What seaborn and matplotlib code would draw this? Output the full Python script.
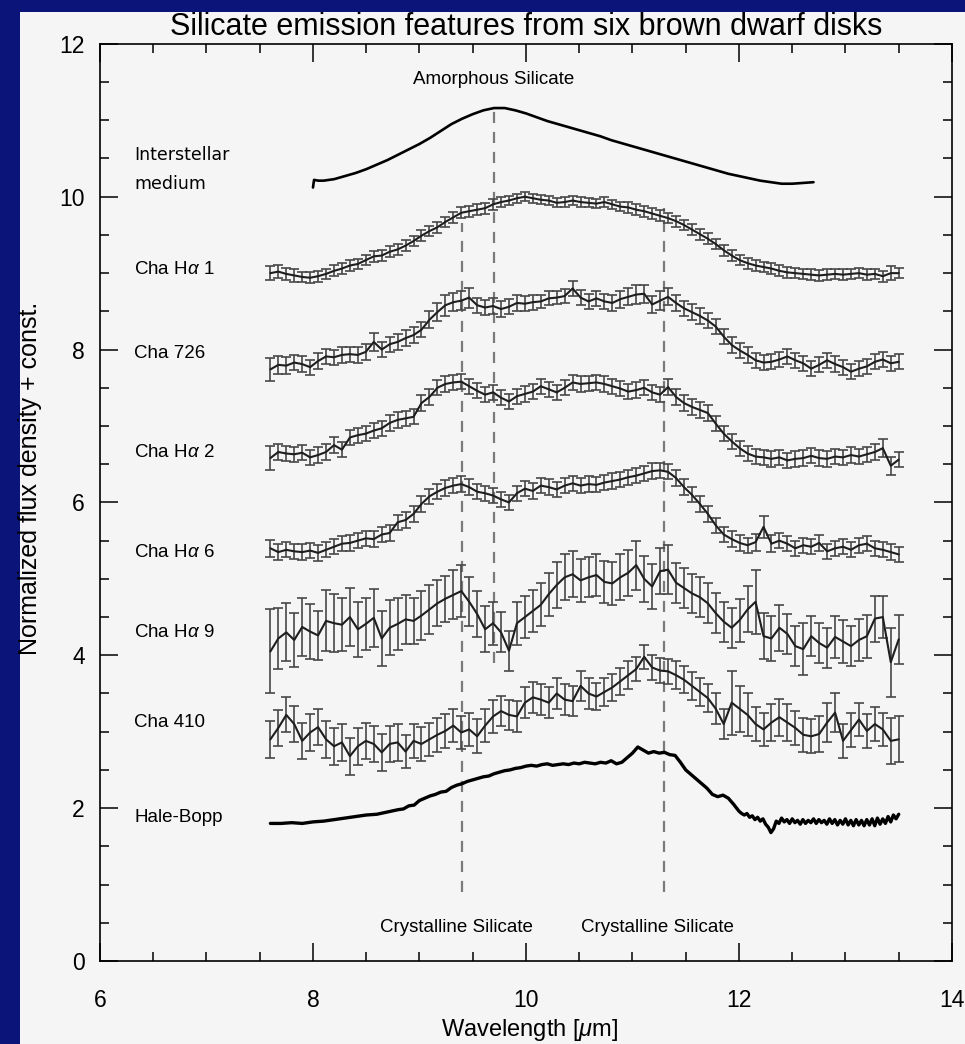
import numpy as np
import matplotlib
matplotlib.use("Agg")
import matplotlib.pyplot as plt
from matplotlib.patches import Rectangle
from matplotlib.ticker import MultipleLocator
import seaborn as sns

# ---------------- data ----------------
wave = np.linspace(7.6, 13.5, 80)   # IRS wavelength grid [micron]

cha_ha1 = [9.00, 9.02, 8.99, 8.97, 8.95, 8.94, 8.96, 8.99, 9.03, 9.06,
           9.10, 9.12, 9.17, 9.22, 9.23, 9.28, 9.31, 9.36, 9.42, 9.49,
           9.55, 9.60, 9.67, 9.73, 9.79, 9.81, 9.83, 9.85, 9.90, 9.93,
           9.95, 9.98, 10.00, 9.98, 9.96, 9.95, 9.92, 9.93, 9.95, 9.93,
           9.92, 9.91, 9.93, 9.90, 9.87, 9.86, 9.83, 9.81, 9.78, 9.75,
           9.72, 9.68, 9.63, 9.57, 9.51, 9.45, 9.38, 9.30, 9.23, 9.17,
           9.13, 9.10, 9.08, 9.06, 9.03, 9.01, 9.00, 8.99, 8.98, 8.97,
           8.98, 8.99, 8.98, 8.99, 9.00, 8.98, 8.99, 8.96, 9.00, 9.00]
cha_ha1_err = [0.09, 0.09, 0.08, 0.08, 0.07, 0.07, 0.07, 0.07, 0.07, 0.07,
               0.07, 0.07, 0.07, 0.07, 0.07, 0.07, 0.07, 0.07, 0.07, 0.07,
               0.07, 0.07, 0.07, 0.07, 0.07, 0.07, 0.07, 0.07, 0.07, 0.07,
               0.06, 0.06, 0.06, 0.06, 0.06, 0.06, 0.06, 0.06, 0.06, 0.06,
               0.06, 0.06, 0.06, 0.06, 0.06, 0.07, 0.07, 0.07, 0.07, 0.07,
               0.07, 0.07, 0.07, 0.07, 0.07, 0.07, 0.07, 0.07, 0.07, 0.07,
               0.07, 0.07, 0.07, 0.07, 0.07, 0.07, 0.07, 0.07, 0.07, 0.07,
               0.07, 0.07, 0.07, 0.07, 0.07, 0.07, 0.07, 0.07, 0.09, 0.07]

cha_726 = [7.74, 7.80, 7.79, 7.83, 7.81, 7.77, 7.85, 7.91, 7.90, 7.93,
           7.94, 7.93, 7.97, 8.10, 8.00, 8.07, 8.10, 8.15, 8.19, 8.26,
           8.39, 8.49, 8.58, 8.62, 8.64, 8.68, 8.58, 8.55, 8.57, 8.53,
           8.56, 8.61, 8.60, 8.62, 8.63, 8.67, 8.68, 8.70, 8.80, 8.68,
           8.63, 8.67, 8.63, 8.61, 8.66, 8.69, 8.72, 8.73, 8.59, 8.64,
           8.69, 8.61, 8.54, 8.49, 8.44, 8.38, 8.30, 8.17, 8.06, 7.99,
           7.93, 7.86, 7.83, 7.84, 7.87, 7.91, 7.86, 7.82, 7.75, 7.80,
           7.86, 7.81, 7.77, 7.71, 7.75, 7.78, 7.84, 7.87, 7.82, 7.84]
cha_726_err = [0.15, 0.12, 0.11, 0.10, 0.10, 0.10, 0.10, 0.10, 0.10, 0.10,
               0.10, 0.10, 0.10, 0.12, 0.10, 0.10, 0.10, 0.10, 0.10, 0.10,
               0.11, 0.12, 0.14, 0.12, 0.12, 0.13, 0.10, 0.10, 0.10, 0.10,
               0.10, 0.10, 0.10, 0.10, 0.09, 0.09, 0.09, 0.09, 0.10, 0.10,
               0.10, 0.10, 0.10, 0.11, 0.11, 0.11, 0.12, 0.12, 0.11, 0.12,
               0.11, 0.10, 0.10, 0.10, 0.10, 0.10, 0.10, 0.10, 0.10, 0.10,
               0.10, 0.10, 0.10, 0.10, 0.10, 0.10, 0.10, 0.10, 0.10, 0.10,
               0.10, 0.10, 0.10, 0.10, 0.10, 0.10, 0.10, 0.10, 0.10, 0.10]

cha_ha2 = [6.58, 6.66, 6.64, 6.63, 6.65, 6.59, 6.62, 6.66, 6.75, 6.69,
           6.85, 6.88, 6.90, 6.94, 6.97, 7.04, 7.08, 7.10, 7.12, 7.30,
           7.38, 7.50, 7.55, 7.57, 7.58, 7.52, 7.46, 7.41, 7.44, 7.37,
           7.32, 7.39, 7.42, 7.45, 7.52, 7.48, 7.44, 7.50, 7.57, 7.55,
           7.56, 7.57, 7.55, 7.52, 7.49, 7.45, 7.47, 7.50, 7.44, 7.41,
           7.51, 7.38, 7.30, 7.25, 7.21, 7.17, 7.03, 6.90, 6.80, 6.71,
           6.64, 6.60, 6.59, 6.57, 6.59, 6.55, 6.57, 6.58, 6.61, 6.58,
           6.57, 6.60, 6.59, 6.62, 6.60, 6.63, 6.66, 6.71, 6.48, 6.56]
cha_ha2_err = [0.16, 0.11, 0.10, 0.10, 0.10, 0.10, 0.10, 0.10, 0.10, 0.10,
               0.10, 0.10, 0.10, 0.10, 0.10, 0.10, 0.10, 0.10, 0.10, 0.10,
               0.10, 0.10, 0.10, 0.10, 0.10, 0.10, 0.10, 0.10, 0.10, 0.10,
               0.10, 0.10, 0.10, 0.10, 0.10, 0.10, 0.10, 0.10, 0.10, 0.10,
               0.10, 0.10, 0.10, 0.10, 0.10, 0.10, 0.10, 0.10, 0.10, 0.10,
               0.10, 0.10, 0.10, 0.10, 0.10, 0.10, 0.10, 0.10, 0.10, 0.10,
               0.10, 0.10, 0.10, 0.10, 0.10, 0.10, 0.10, 0.10, 0.10, 0.10,
               0.10, 0.10, 0.10, 0.10, 0.10, 0.10, 0.11, 0.12, 0.12, 0.10]

cha_ha6 = [5.40, 5.35, 5.38, 5.36, 5.35, 5.37, 5.34, 5.38, 5.42, 5.46,
           5.47, 5.50, 5.53, 5.52, 5.58, 5.60, 5.74, 5.77, 5.85, 5.98,
           6.08, 6.14, 6.19, 6.22, 6.24, 6.20, 6.14, 6.12, 6.09, 6.04,
           6.00, 6.12, 6.18, 6.15, 6.22, 6.20, 6.17, 6.22, 6.25, 6.22,
           6.24, 6.23, 6.26, 6.28, 6.30, 6.33, 6.35, 6.38, 6.41, 6.42,
           6.40, 6.32, 6.20, 6.10, 5.98, 5.85, 5.70, 5.58, 5.52, 5.47,
           5.44, 5.48, 5.68, 5.46, 5.50, 5.46, 5.40, 5.44, 5.42, 5.47,
           5.36, 5.40, 5.42, 5.38, 5.44, 5.46, 5.40, 5.38, 5.35, 5.32]
cha_ha6_err = [0.11, 0.10, 0.10, 0.10, 0.10, 0.10, 0.10, 0.10, 0.10, 0.10,
               0.10, 0.10, 0.10, 0.10, 0.10, 0.10, 0.10, 0.10, 0.10, 0.10,
               0.10, 0.10, 0.10, 0.10, 0.10, 0.10, 0.10, 0.10, 0.10, 0.10,
               0.10, 0.10, 0.10, 0.10, 0.10, 0.10, 0.10, 0.10, 0.10, 0.10,
               0.10, 0.10, 0.10, 0.10, 0.10, 0.10, 0.10, 0.10, 0.10, 0.10,
               0.10, 0.10, 0.10, 0.10, 0.10, 0.10, 0.10, 0.10, 0.10, 0.10,
               0.10, 0.11, 0.14, 0.11, 0.10, 0.10, 0.10, 0.10, 0.10, 0.10,
               0.10, 0.10, 0.10, 0.10, 0.10, 0.10, 0.10, 0.10, 0.10, 0.10]

cha_ha9 = [4.05, 4.22, 4.30, 4.20, 4.37, 4.31, 4.26, 4.45, 4.42, 4.40,
           4.50, 4.34, 4.41, 4.49, 4.22, 4.36, 4.41, 4.47, 4.45, 4.52,
           4.60, 4.68, 4.74, 4.79, 4.84, 4.70, 4.54, 4.34, 4.42, 4.30,
           4.06, 4.42, 4.50, 4.58, 4.66, 4.80, 4.92, 5.02, 5.06, 4.98,
           5.02, 5.05, 4.96, 4.94, 5.02, 5.08, 5.18, 5.00, 4.90, 5.10,
           5.12, 4.95, 4.88, 4.81, 4.76, 4.68, 4.55, 4.44, 4.36, 4.46,
           4.60, 4.70, 4.25, 4.22, 4.36, 4.28, 4.12, 4.08, 4.25, 4.16,
           4.10, 4.24, 4.18, 4.12, 4.20, 4.25, 4.48, 4.50, 3.91, 4.21]
cha_ha9_err = [0.55, 0.40, 0.38, 0.35, 0.38, 0.36, 0.32, 0.40, 0.38, 0.35,
               0.38, 0.36, 0.34, 0.38, 0.36, 0.36, 0.34, 0.32, 0.30, 0.32,
               0.32, 0.30, 0.30, 0.32, 0.34, 0.32, 0.30, 0.30, 0.28, 0.26,
               0.26, 0.28, 0.28, 0.28, 0.28, 0.28, 0.30, 0.30, 0.30, 0.28,
               0.26, 0.28, 0.28, 0.28, 0.30, 0.30, 0.32, 0.30, 0.30, 0.30,
               0.32, 0.26, 0.26, 0.26, 0.26, 0.26, 0.26, 0.26, 0.26, 0.28,
               0.30, 0.42, 0.30, 0.30, 0.30, 0.26, 0.26, 0.34, 0.26, 0.26,
               0.26, 0.28, 0.28, 0.26, 0.28, 0.28, 0.30, 0.28, 0.45, 0.32]

cha_410 = [2.90, 3.05, 3.22, 3.10, 2.88, 2.99, 3.06, 2.90, 2.81, 2.86,
           2.68, 2.81, 2.88, 2.84, 2.73, 2.84, 2.86, 2.74, 2.88, 2.84,
           2.90, 2.96, 3.01, 3.08, 2.99, 3.03, 2.94, 3.08, 3.20, 3.27,
           3.22, 3.20, 3.38, 3.45, 3.42, 3.38, 3.50, 3.42, 3.40, 3.60,
           3.50, 3.46, 3.52, 3.58, 3.66, 3.74, 3.82, 3.98, 3.84, 3.80,
           3.79, 3.74, 3.68, 3.60, 3.52, 3.44, 3.30, 3.10, 3.38, 3.30,
           3.22, 3.10, 3.03, 3.12, 3.19, 3.12, 3.05, 2.96, 2.94, 2.97,
           3.12, 3.25, 2.88, 3.02, 3.16, 3.01, 3.10, 3.03, 2.88, 2.90]
cha_410_err = [0.24, 0.24, 0.23, 0.24, 0.24, 0.24, 0.24, 0.24, 0.24, 0.24,
               0.24, 0.24, 0.24, 0.24, 0.24, 0.24, 0.24, 0.22, 0.22, 0.22,
               0.22, 0.22, 0.22, 0.22, 0.22, 0.22, 0.22, 0.22, 0.22, 0.20,
               0.20, 0.20, 0.20, 0.20, 0.20, 0.20, 0.20, 0.20, 0.20, 0.20,
               0.20, 0.18, 0.18, 0.18, 0.18, 0.18, 0.16, 0.16, 0.16, 0.16,
               0.16, 0.18, 0.18, 0.18, 0.18, 0.18, 0.20, 0.20, 0.42, 0.30,
               0.28, 0.22, 0.22, 0.24, 0.24, 0.24, 0.22, 0.22, 0.22, 0.24,
               0.26, 0.26, 0.22, 0.22, 0.22, 0.22, 0.22, 0.22, 0.30, 0.30]

ism_wave = [8.00, 8.01, 8.05, 8.10, 8.20, 8.30, 8.40, 8.50, 8.60, 8.70,
            8.80, 8.90, 9.00, 9.10, 9.20, 9.30, 9.40, 9.50, 9.60, 9.70,
            9.80, 9.90, 10.00, 10.10, 10.20, 10.30, 10.40, 10.50, 10.60, 10.70,
            10.80, 10.90, 11.00, 11.10, 11.20, 11.30, 11.40, 11.50, 11.60, 11.70,
            11.80, 11.90, 12.00, 12.10, 12.20, 12.30, 12.40, 12.50, 12.60, 12.70]
ism_flux = [10.12, 10.22, 10.21, 10.21, 10.23, 10.27, 10.31, 10.36, 10.42, 10.48,
            10.55, 10.62, 10.69, 10.77, 10.86, 10.95, 11.02, 11.08, 11.13, 11.16,
            11.16, 11.13, 11.09, 11.04, 10.99, 10.95, 10.91, 10.87, 10.83, 10.79,
            10.74, 10.70, 10.66, 10.62, 10.58, 10.54, 10.50, 10.46, 10.42, 10.38,
            10.34, 10.30, 10.27, 10.24, 10.21, 10.19, 10.17, 10.17, 10.18, 10.19]

hb_wave = [7.60, 7.70, 7.80, 7.90, 8.00, 8.10, 8.20, 8.30, 8.40, 8.50,
           8.60, 8.70, 8.80, 8.85, 8.90, 8.95, 9.00, 9.05, 9.10, 9.15,
           9.20, 9.25, 9.30, 9.35, 9.40, 9.45, 9.50, 9.55, 9.60, 9.65,
           9.70, 9.75, 9.80, 9.85, 9.90, 9.95, 10.00, 10.05, 10.10, 10.15,
           10.20, 10.25, 10.30, 10.35, 10.40, 10.45, 10.50, 10.55, 10.60, 10.65,
           10.70, 10.75, 10.80, 10.85, 10.90, 10.95, 11.00, 11.05, 11.10, 11.15,
           11.20, 11.25, 11.30, 11.35, 11.40, 11.45, 11.50, 11.55, 11.60, 11.65,
           11.70, 11.75, 11.80, 11.85, 11.90, 11.95,
           12.000, 12.025, 12.050, 12.075, 12.100, 12.125, 12.150, 12.175, 12.200, 12.225,
           12.250, 12.275, 12.300, 12.325, 12.350, 12.375, 12.400, 12.425, 12.450, 12.475,
           12.500, 12.525, 12.550, 12.575, 12.600, 12.625, 12.650, 12.675, 12.700, 12.725,
           12.750, 12.775, 12.800, 12.825, 12.850, 12.875, 12.900, 12.925, 12.950, 12.975,
           13.000, 13.025, 13.050, 13.075, 13.100, 13.125, 13.150, 13.175, 13.200, 13.225,
           13.250, 13.275, 13.300, 13.325, 13.350, 13.375, 13.400, 13.425, 13.450, 13.475,
           13.500]
hb_flux = [1.80, 1.80, 1.81, 1.80, 1.82, 1.83, 1.85, 1.87, 1.89, 1.91,
           1.92, 1.95, 1.98, 1.99, 2.03, 2.04, 2.10, 2.13, 2.16, 2.18,
           2.21, 2.22, 2.27, 2.30, 2.32, 2.35, 2.37, 2.39, 2.41, 2.42,
           2.45, 2.47, 2.49, 2.50, 2.52, 2.53, 2.55, 2.56, 2.55, 2.57,
           2.58, 2.56, 2.57, 2.58, 2.57, 2.59, 2.58, 2.60, 2.59, 2.58,
           2.60, 2.59, 2.62, 2.58, 2.60, 2.66, 2.72, 2.80, 2.76, 2.72,
           2.74, 2.72, 2.73, 2.70, 2.69, 2.60, 2.50, 2.44, 2.38, 2.32,
           2.26, 2.18, 2.15, 2.17, 2.13, 2.05,
           1.96, 1.93, 1.91, 1.93, 1.88, 1.90, 1.85, 1.88, 1.83, 1.86,
           1.79, 1.75, 1.68, 1.73, 1.83, 1.80, 1.87, 1.82, 1.85, 1.80,
           1.86, 1.81, 1.84, 1.79, 1.85, 1.80, 1.84, 1.81, 1.86, 1.80,
           1.85, 1.81, 1.84, 1.79, 1.86, 1.80, 1.85, 1.78, 1.84, 1.79,
           1.86, 1.78, 1.84, 1.77, 1.85, 1.78, 1.84, 1.77, 1.85, 1.78,
           1.86, 1.77, 1.87, 1.79, 1.86, 1.80, 1.89, 1.82, 1.91, 1.86,
           1.92]

series_labels = ["Cha H$\\alpha$ 1", "Cha 726", "Cha H$\\alpha$ 2", "Cha H$\\alpha$ 6",
                 "Cha H$\\alpha$ 9", "Cha 410", "Hale-Bopp"]
label_levels = [9.05, 7.95, 6.65, 5.35, 4.30, 3.12, 1.88]

feature_wave = [9.4, 9.7, 11.3]
feature_low = [0.9, 3.9, 0.9]
feature_high = [9.65, 11.15, 9.85]

# ---------------- style ----------------
sns.set_theme(style="ticks")
plt.rcParams["font.family"] = ["Liberation Sans", "DejaVu Sans"]
plt.rcParams["mathtext.fontset"] = "custom"
plt.rcParams["mathtext.it"] = "Liberation Sans:italic"
plt.rcParams["mathtext.rm"] = "Liberation Sans"
plt.rcParams["text.color"] = "black"
plt.rcParams["xtick.color"] = "black"
plt.rcParams["ytick.color"] = "black"
plt.rcParams["xtick.labelcolor"] = "black"
plt.rcParams["ytick.labelcolor"] = "black"

NAVY = "#0b1478"
PANEL = "#f5f5f5"

fig = plt.figure(figsize=(9.65, 10.44), dpi=100)
fig.patch.set_facecolor(NAVY)
fig.add_artist(Rectangle((20 / 965, 0), 1 - 20 / 965, 1 - 12 / 1044,
                         transform=fig.transFigure, facecolor=PANEL,
                         edgecolor="none", zorder=-10))

ax = fig.add_axes([0.1036, 0.0795, 0.8829, 0.8785])
ax.set_facecolor(PANEL)

# dashed feature markers
ax.vlines(feature_wave, feature_low, feature_high, colors="#7a7a7a",
          linestyles=(0, (5, 4)), linewidth=1.6, zorder=1)

spectra = [(cha_ha1, cha_ha1_err), (cha_726, cha_726_err), (cha_ha2, cha_ha2_err),
           (cha_ha6, cha_ha6_err), (cha_ha9, cha_ha9_err), (cha_410, cha_410_err)]
for flux, err in spectra:
    ax.errorbar(wave, flux, yerr=err, fmt="none", ecolor="#474747",
                elinewidth=1.2, capsize=3.6, capthick=1.2, zorder=2)
    sns.lineplot(x=wave, y=flux, ax=ax, color="#1e1e1e", linewidth=1.5,
                 estimator=None, sort=False, zorder=3)

sns.lineplot(x=ism_wave, y=ism_flux, ax=ax, color="black", linewidth=1.9,
             estimator=None, sort=False, zorder=3)
sns.lineplot(x=hb_wave, y=hb_flux, ax=ax, color="black", linewidth=2.4,
             estimator=None, sort=False, zorder=3)

# labels
ax.text(6.32, 10.55, "Interstellar", fontsize=12.5, family="DejaVu Sans",
        ha="left", va="center", color="black")
ax.text(6.32, 10.16, "medium", fontsize=12.5, family="DejaVu Sans",
        ha="left", va="center", color="black")
for lab, lev in zip(series_labels, label_levels):
    ax.text(6.32, lev, lab, fontsize=13.5, ha="left", va="center", color="black")

ax.text(9.7, 11.53, "Amorphous Silicate", fontsize=13.5, ha="center", va="center")
ax.text(9.35, 0.44, "Crystalline Silicate", fontsize=13.5, ha="center", va="center")
ax.text(11.23, 0.44, "Crystalline Silicate", fontsize=13.5, ha="center", va="center")

ax.set_xlim(6, 14)
ax.set_ylim(0, 12)
ax.xaxis.set_major_locator(MultipleLocator(2))
ax.xaxis.set_minor_locator(MultipleLocator(0.5))
ax.yaxis.set_major_locator(MultipleLocator(2))
ax.yaxis.set_minor_locator(MultipleLocator(0.5))
ax.tick_params(which="both", direction="in", top=True, right=True,
               color="black", width=1.1)
ax.tick_params(which="major", length=13)
ax.tick_params(which="minor", length=6.5)
ax.tick_params(axis="x", which="major", labelsize=16.5, pad=20)
ax.tick_params(axis="y", which="major", labelsize=16.5, pad=11)
for sp in ax.spines.values():
    sp.set_color("black")
    sp.set_linewidth(1.2)
ax.set_xlabel("")
ax.set_ylabel("")

fig.text(0.5485, 0.0135, "Wavelength [$\\mu$m]", fontsize=17, ha="center", va="center")
fig.text(0.031, 0.542, "Normalized flux density + const.", fontsize=18,
         rotation=90, ha="center", va="center")
fig.text(0.545, 0.9665, "Silicate emission features from six brown dwarf disks",
         fontsize=22, ha="center", va="baseline")

fig.savefig("out.png", dpi=100, facecolor=fig.get_facecolor())
